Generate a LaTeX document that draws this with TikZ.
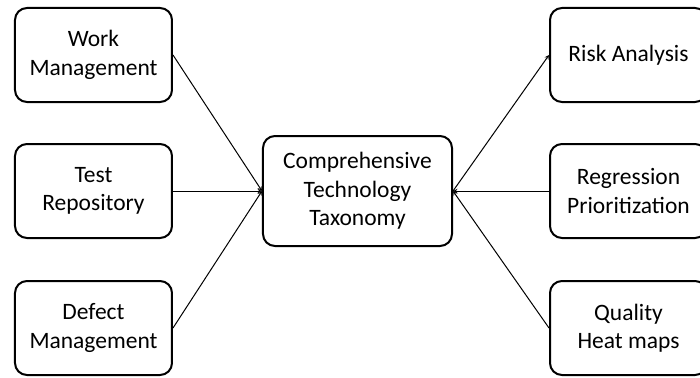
\documentclass[tikz,border=0pt]{standalone}
\usepackage{fontspec}
\setmainfont{Carlito}
\usetikzlibrary{arrows, positioning}

\begin{document}
\begin{tikzpicture}[x=1bp, y=1bp, node distance=40bp and 89bp]

  % styles
  \tikzstyle{item} = [rectangle, rounded corners=12bp, minimum width=157bp, minimum height=94bp, text centered, align=center, draw=black, line width=2bp, font=\fontsize{23.5bp}{28.5bp}\selectfont]
  \tikzstyle{hub} = [item, minimum width=189bp, minimum height=110bp]
  \tikzstyle{arrow} = [line width=1bp, ->, >=stealth]

  \useasboundingbox (-357.5,-186) rectangle (342.5,191);

  % centre
  \node (taxonomy) [hub] {Comprehensive\\Technology\\Taxonomy};

  % LEFT (sources)
  \node (test) [item, left=89bp of taxonomy] {Test\\Repository};
  \node (work) [item, above=of test] {Work\\Management};
  \node (defect) [item, below=41bp of test] {Defect\\Management};

  % RIGHT (uses)
  \node (regression) [item, right=96bp of taxonomy] {Regression\\Prioritization};
  \node (risk) [item, above=of regression] {Risk Analysis};
  \node (quality) [item, below=41bp of regression] {Quality\\Heat maps};

  % arrows
  \draw [arrow] (work.east) -- (taxonomy.west);
  \draw [arrow] (test.east) -- (taxonomy.west);
  \draw [arrow] (defect.east) -- (taxonomy.west);

  \draw [arrow] (taxonomy.east) -- (risk.west);
  \draw [arrow] (regression.west) -- (taxonomy.east);
  \draw [arrow] (quality.west) -- (taxonomy.east);

\end{tikzpicture}
\end{document}
